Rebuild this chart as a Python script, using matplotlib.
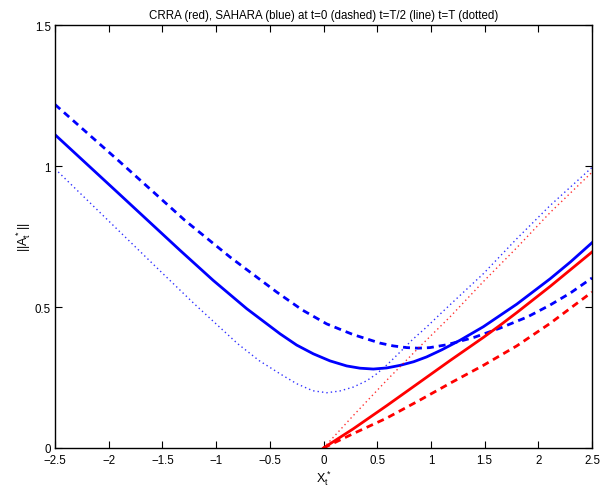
import matplotlib
matplotlib.use("Agg")
import matplotlib.pyplot as plt

plt.rcParams['font.family'] = ['Liberation Sans', 'DejaVu Sans']
plt.rcParams['mathtext.default'] = 'regular'

# values
# SAHARA (blue)
blue_t0_x = [-2.5, -1.9, -1.29, -0.87, -0.436, -0.2, 0.03, 0.277, 0.526, 0.65, 0.775, 0.88, 0.99,
             1.147, 1.4, 1.643, 1.9, 2.11, 2.3, 2.5]
blue_t0_y = [1.218, 1.016, 0.807, 0.677, 0.553, 0.49, 0.44, 0.402, 0.372, 0.362, 0.356, 0.354, 0.356,
             0.366, 0.392, 0.425, 0.465, 0.507, 0.55, 0.603]

blue_half_x = [-2.5, -1.9, -1.336, -1.026, -0.715, -0.405, -0.25, -0.095, 0.06, 0.216, 0.34, 0.464,
               0.59, 0.712, 0.84, 0.96, 1.1, 1.271, 1.488, 1.799, 2.11, 2.3, 2.5]
blue_half_y = [1.111, 0.90, 0.701, 0.594, 0.494, 0.405, 0.365, 0.334, 0.309, 0.291, 0.283, 0.28,
               0.284, 0.293, 0.306, 0.323, 0.348, 0.382, 0.43, 0.51, 0.60, 0.66, 0.728]

blue_T_x = [-2.5, -2.0, -1.5, -1.2, -1.0, -0.8, -0.6, -0.4, -0.25, -0.1, 0.03, 0.15, 0.277, 0.4,
            0.495, 0.6, 0.712, 0.83, 0.96, 1.1, 1.24, 1.488, 1.799, 2.11, 2.5]
blue_T_y = [0.99, 0.805, 0.62, 0.51, 0.44, 0.37, 0.31, 0.262, 0.228, 0.203, 0.196, 0.202, 0.216, 0.238,
            0.263, 0.298, 0.34, 0.385, 0.429, 0.48, 0.53, 0.618, 0.742, 0.86, 0.995]

# CRRA (red), only for X >= 0
red_t0_x = [0, 0.277, 0.588, 0.898, 1.19, 1.488, 1.799, 2.11, 2.5]
red_t0_y = [0, 0.051, 0.106, 0.17, 0.232, 0.293, 0.362, 0.442, 0.553]

red_half_x = [0, 0.277, 0.588, 0.898, 1.178, 1.488, 1.643, 1.799, 2.11, 2.5]
red_half_y = [0, 0.068, 0.150, 0.234, 0.31, 0.392, 0.435, 0.48, 0.573, 0.695]

red_T_x = [0, 0.277, 0.588, 0.898, 1.178, 1.488, 1.799, 2.11, 2.5]
red_T_y = [0, 0.115, 0.24, 0.36, 0.465, 0.59, 0.71, 0.835, 0.978]

x_ticks = [-2.5, -2, -1.5, -1, -0.5, 0, 0.5, 1, 1.5, 2, 2.5]
y_ticks = [0, 0.5, 1, 1.5]

dashed = (0, (2.5, 1.8))
dotted = (0, (1, 2.2))

fig = plt.figure(figsize=(6.02, 4.89), dpi=100)
ax = fig.add_axes([0.0914, 0.0818, 0.892, 0.865])

ax.plot(blue_t0_x, blue_t0_y, color='blue', lw=2, linestyle=dashed)
ax.plot(blue_half_x, blue_half_y, color='blue', lw=2)
ax.plot(blue_T_x, blue_T_y, color='blue', lw=1, linestyle=dotted, alpha=0.8)
ax.plot(red_t0_x, red_t0_y, color='red', lw=2, linestyle=dashed)
ax.plot(red_half_x, red_half_y, color='red', lw=2)
ax.plot(red_T_x, red_T_y, color='red', lw=1, linestyle=dotted, alpha=0.8)

ax.set_xlim(-2.5, 2.5)
ax.set_ylim(0, 1.5)
ax.set_xticks(x_ticks)
ax.set_xticklabels([('%g' % v).replace('-', '\u2212') for v in x_ticks])
ax.set_yticks(y_ticks)
ax.set_yticklabels(['%g' % v for v in y_ticks])
ax.tick_params(direction='in', top=True, right=True, length=5, width=0.8, labelsize=8.3)
ax.tick_params(axis='x', pad=4)
ax.tick_params(axis='y', pad=3)
for s in ax.spines.values():
    s.set_linewidth(1)

ax.set_title('CRRA (red), SAHARA (blue) at t=0 (dashed) t=T/2 (line) t=T (dotted)', fontsize=8.3, pad=5)
ax.set_xlabel(r'$X_t^*$', fontsize=9, labelpad=2)
ax.set_ylabel(r'$||A_t^*||$', fontsize=9, labelpad=1)

fig.savefig('out.png', dpi=100)
